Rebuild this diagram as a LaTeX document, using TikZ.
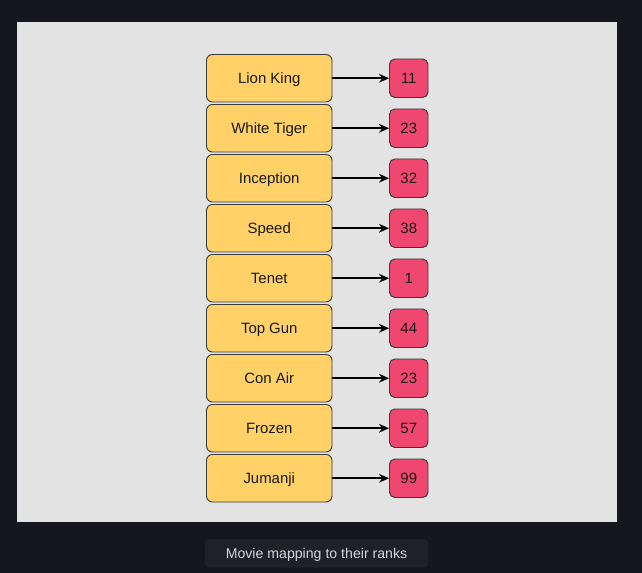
\documentclass[tikz,border=0pt]{standalone}
\usepackage{fontspec}
\setmainfont{Liberation Sans}
\usetikzlibrary{arrows.meta}
\definecolor{pagebg}{HTML}{15161E}
\definecolor{panel}{HTML}{E3E3E3}
\definecolor{movie}{HTML}{FFD166}
\definecolor{rank}{HTML}{EF476F}
\definecolor{edge}{HTML}{3A3A3A}
\definecolor{capbg}{HTML}{1F2029}
\definecolor{captext}{HTML}{D4D4D8}
\begin{document}
\begin{tikzpicture}[x=0.75pt,y=-0.75pt,
  moviebox/.style={draw=edge,line width=0.7pt,fill=movie,rounded corners=4.5pt,
    minimum width=125.5*0.75pt,minimum height=47.5*0.75pt,inner sep=0pt,
    text height=8pt,text depth=0pt,
    font=\fontsize{11.2pt}{13pt}\selectfont,text=black!90},
  rankbox/.style={draw=edge,line width=0.7pt,fill=rank,rounded corners=4pt,
    minimum width=38.5*0.75pt,minimum height=38.5*0.75pt,inner sep=0pt,
    text height=8pt,text depth=0pt,
    font=\fontsize{11.2pt}{13pt}\selectfont,text=black!90},
  link/.style={-{Stealth[length=7.5pt,width=6.5pt]},line width=1.4pt,black},
  capstyle/.style={fill=capbg,rounded corners=3pt,minimum width=223*0.75pt,
    minimum height=28.5*0.75pt,inner sep=0pt,text=captext,
    text height=7.6pt,text depth=0pt,
    font=\fontsize{10.6pt}{12pt}\selectfont}]
\useasboundingbox (0,0) rectangle (642,573);
\fill[pagebg] (0,0) rectangle (642,573);
\fill[panel] (17,22) rectangle (617,522);
\foreach \name/\val [count=\i from 0] in {Lion King/11,White Tiger/23,Inception/32,Speed/38,Tenet/1,Top Gun/44,Con Air/23,Frozen/57,Jumanji/99}{
  \node[moviebox] (m\i) at (269.25,78.25+50*\i) {\name};
  \node[rankbox] (r\i) at (408.75,78.25+50*\i) {\val};
  \draw[link] (m\i.east) -- (r\i.west);
}
\node[capstyle] (cap) at (316.5,553.25) {Movie mapping to their ranks};
\end{tikzpicture}
\end{document}
